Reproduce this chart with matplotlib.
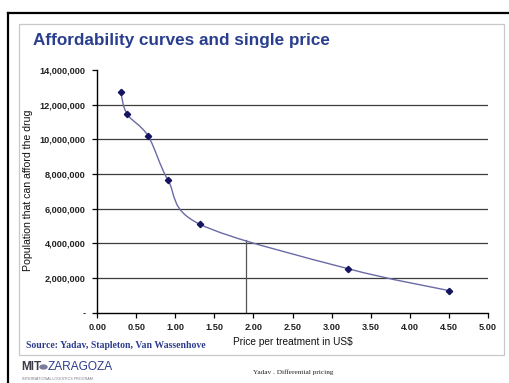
import matplotlib
matplotlib.use("Agg")
import matplotlib.pyplot as plt
from matplotlib.path import Path
from matplotlib.patches import PathPatch, Rectangle, Ellipse
from matplotlib.ticker import FuncFormatter
import numpy as np

# Affordability curve: price per treatment (US$) vs population able to afford
price = [0.30, 0.38, 0.65, 0.905, 1.31, 3.21, 4.51]
population = [12.75e6, 11.47e6, 10.2e6, 7.65e6, 5.11e6, 2.54e6, 1.27e6]

# Single price marker
single_price = 1.90
single_price_population = 4.19e6

x_ticks = [0.0, 0.5, 1.0, 1.5, 2.0, 2.5, 3.0, 3.5, 4.0, 4.5, 5.0]
y_ticks = [0, 2e6, 4e6, 6e6, 8e6, 10e6, 12e6, 14e6]

title = "Affordability curves and single price"
x_label = "Price per treatment in US$"
y_label = "Population that can afford the drug"
source = "Source: Yadav, Stapleton, Van Wassenhove"
footer = "Yadav . Differential pricing"

plt.rcParams["font.family"] = ["Liberation Sans", "DejaVu Sans"]

fig = plt.figure(figsize=(5.10, 3.83), dpi=100)
W, H = 510, 383

def fx(px):
    return px / W

def fy(py):
    return 1 - py / H

# Outer black frame and inner light panel
fig.add_artist(plt.Line2D([fx(8), fx(510)], [fy(12.5), fy(12.5)], color="black", lw=1.6))
fig.add_artist(plt.Line2D([fx(8), fx(8)], [fy(12.5), fy(383)], color="black", lw=1.6))
fig.add_artist(Rectangle((fx(19), fy(355)), fx(504) - fx(19), fy(24) - fy(355),
                         transform=fig.transFigure, fill=False, ec="#c8c8c8", lw=0.9))

ax = fig.add_axes([fx(97.3), fy(312.7), fx(487.7) - fx(97.3), fy(70) - fy(312.7)])
ax.set_xlim(0, 5)
ax.set_ylim(0, 14e6)

# Horizontal gridlines
for yv in y_ticks[1:-1]:
    ax.axhline(yv, color="#3c3c3c", lw=0.9, zorder=1)

# Smoothed curve through the points (Catmull-Rom style Bezier segments)
pts = np.column_stack([price, population])
n = len(pts)
verts = [tuple(pts[0])]
codes = [Path.MOVETO]
for i in range(n - 1):
    p0 = pts[i - 1] if i > 0 else pts[i]
    p1 = pts[i]
    p2 = pts[i + 1]
    p3 = pts[i + 2] if i + 2 < n else pts[i + 1]
    c1 = p1 + (p2 - p0) / 6.0
    c2 = p2 - (p3 - p1) / 6.0
    verts += [tuple(c1), tuple(c2), tuple(p2)]
    codes += [Path.CURVE4] * 3
ax.add_patch(PathPatch(Path(verts, codes), fill=False, ec="#6a6aa6", lw=1.0, zorder=3))
ax.plot(price, population, linestyle="none", marker="D", ms=3.2,
        color="#141460", zorder=4)

# Single price line
ax.plot([single_price, single_price], [0, single_price_population],
        color="#555555", lw=0.9, zorder=2)

ax.spines["top"].set_visible(False)
ax.spines["right"].set_visible(False)
for s in ("left", "bottom"):
    ax.spines[s].set_color("black")
    ax.spines[s].set_linewidth(1.0)

ax.set_xticks(x_ticks)
ax.set_yticks(y_ticks)
ax.xaxis.set_major_formatter(FuncFormatter(lambda v, p: f"{v:.2f}"))
ax.yaxis.set_major_formatter(FuncFormatter(lambda v, p: "-" if v == 0 else f"{v:,.0f}"))
ax.tick_params(axis="both", direction="out", length=3.5, width=0.9, color="black",
               labelsize=6.6)
ax.tick_params(axis="x", pad=4)
ax.tick_params(axis="y", pad=5)
for lab in ax.get_xticklabels() + ax.get_yticklabels():
    lab.set_fontweight("bold")
    lab.set_color("#222222")

fig.text(fx(292.5), fy(342), x_label, fontsize=7.3, color="#111111",
         ha="center", va="center")
fig.text(fx(28), fy(190), y_label, fontsize=7.6, color="#111111", rotation=90,
         ha="center", va="center")

fig.text(fx(33), fy(41), title, fontsize=12.3, fontweight="bold", color="#2a3e8e",
         ha="left", va="center")

fig.text(fx(26), fy(346), source, fontsize=7.0, fontweight="bold", color="#2c3c8c",
         family=["Liberation Serif", "DejaVu Serif"], ha="left", va="center")

# Logo block
fig.text(fx(21.5), fy(367), "MIT", fontsize=8.5, fontweight="bold", color="#3a3a48",
         family=["Liberation Sans Narrow", "Liberation Sans"], ha="left", va="center",
         stretch="condensed")
fig.add_artist(Ellipse((fx(43.5), fy(367)), fx(7), fx(7) * W / H * 0.55,
                       transform=fig.transFigure, color="#7a7a9a"))
fig.text(fx(48), fy(367), "ZARAGOZA", fontsize=8.6, color="#2c3c8c",
         family=["Liberation Sans Narrow", "Liberation Sans"], ha="left", va="center")
fig.text(fx(22), fy(378.5), "INTERNATIONAL LOGISTICS PROGRAM", fontsize=2.7, color="#7a7a8a",
         ha="left", va="center")
fig.text(fx(253), fy(372), footer, fontsize=5.2,
         family=["Liberation Serif", "DejaVu Serif"], color="#222222",
         ha="left", va="center")

fig.savefig("out.png", dpi=100)
